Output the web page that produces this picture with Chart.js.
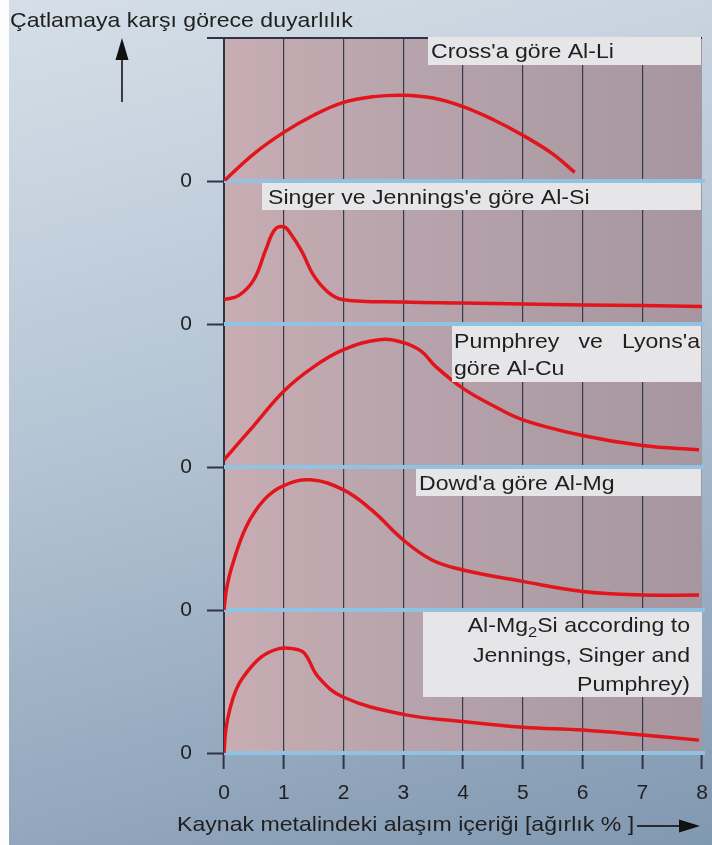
<!DOCTYPE html>
<html>
<head>
<meta charset="utf-8">
<script src="https://cdn.jsdelivr.net/npm/chart.js@4.4.1/dist/chart.umd.min.js"></script>
<style>
  html, body { margin: 0; padding: 0; }
  body {
    width: 712px; height: 845px; overflow: hidden;
    background: linear-gradient(165deg, #d6dfe8 0%, #b4c4d4 45%, #8198b1 100%);
  }
  #wrap { position: relative; width: 712px; height: 845px; }
  .stripe { position: absolute; left: 0; top: 0; width: 9px; height: 845px; background: #fdfdfd; }
  #chart { position: absolute; left: 0; top: 0; }
</style>
</head>
<body>
<div id="wrap">
  <div class="stripe"></div>
  <canvas id="chart" width="712" height="845"></canvas>
</div>
<script>
// --- DATA (x = alloy content wt %, y = relative sensitivity, % of panel height) ---
const alLiX = [0, 0.5, 1, 1.5, 2, 2.5, 3, 3.5, 4, 4.5, 5, 5.5, 5.87];
const alLiY = [0, 19, 34, 46, 55, 59, 60, 58, 52, 43, 32, 19, 6];

const alSiX = [0, 0.25, 0.5, 0.7, 0.85, 1.0, 1.1, 1.3, 1.5, 1.75, 2.0, 3, 4, 5, 6, 7, 8];
const alSiY = [17, 20, 31, 52, 66, 68, 64, 51, 34, 22, 17, 15.4, 14.7, 14, 13.3, 12.9, 12.2];

const alCuX = [0, 0.5, 1, 1.5, 2, 2.6, 3, 3.3, 3.55, 4, 4.5, 5, 6, 7, 7.95];
const alCuY = [5, 29, 53, 70, 82, 89, 87, 81, 70, 55, 43, 33, 22, 15, 12];

const alMgX = [0, 0.04, 0.13, 0.37, 0.67, 1.0, 1.45, 2.0, 2.47, 3.0, 3.48, 4, 5, 6, 7, 7.95];
const alMgY = [0, 14, 30, 58, 77, 87, 91, 84, 70, 49, 35, 28, 20, 13, 10.5, 10.5];

const alMgSiX = [0, 0.03, 0.1, 0.2, 0.32, 0.62, 0.92, 1.15, 1.34, 1.58, 2.0, 3, 4, 5, 6, 7, 7.95];
const alMgSiY = [0, 16, 31, 44, 53, 67, 73, 73, 70, 53, 39, 27, 22, 18, 16, 12.6, 9];

const xMin = 0, xMax = 8;
const yTickLabel = '0';

const yAxisTitle = 'Çatlamaya karşı görece duyarlılık';
const xAxisTitle = 'Kaynak metalindeki alaşım içeriği [ağırlık % ]';
const labelLi = "Cross'a göre Al-Li";
const labelSi = "Singer ve Jennings'e göre Al-Si";
const labelCu = [["Pumphrey", "ve", "Lyons'a"], "göre Al-Cu"];
const labelMg = "Dowd'a göre Al-Mg";
const labelMgSi = [["Al-Mg", "2", "Si according to"], "Jennings, Singer and", "Pumphrey)"];

// panels top -> bottom
const panelIds = ['yLi', 'ySi', 'yCu', 'yMg', 'yMgSi'];

const FONT = '"Liberation Sans", Arial, sans-serif';
const INK = '#1f1f1f';
const DARK = '#2e3446';
const RED = '#e2151d';

function pts(xs, ys) {
    return xs.map((x, i) => ({ x: x, y: ys[i] }));
}

function series(xs, ys, axis) {
    return {
        data: pts(xs, ys),
        yAxisID: axis,
        borderColor: RED,
        borderWidth: 3.5,
        pointRadius: 0,
        fill: false,
        tension: 0.4
    };
}

// text is a bit wide in the original, stretch it horizontally
function txt(ctx, s, x, y, align, size) {
    ctx.save();
    ctx.translate(x, y);
    ctx.scale(1.1, 1);
    ctx.font = (size || 21) + 'px ' + FONT;
    ctx.textAlign = align || 'left';
    ctx.textBaseline = 'alphabetic';
    ctx.fillStyle = INK;
    ctx.fillText(s, 0, 0);
    ctx.restore();
}

function txtW(ctx, s, size) {
    ctx.save();
    ctx.font = (size || 21) + 'px ' + FONT;
    const w = ctx.measureText(s).width * 1.1;
    ctx.restore();
    return w;
}

function box(ctx, x1, y1, x2, y2) {
    ctx.fillStyle = '#e6e6e8';
    ctx.fillRect(x1, y1, x2 - x1, y2 - y1);
}

// --- scales ---
const scales = {
    x: {
        type: 'linear',
        min: xMin,
        max: xMax,
        ticks: { stepSize: 1, color: INK, font: { size: 21, family: FONT }, padding: 12 },
        grid: {
            color: c => (c.tick && c.tick.value === xMax) ? 'rgba(0,0,0,0)' : '#363a4c',
            lineWidth: 1.2,
            tickColor: DARK,
            tickWidth: 2,
            tickLength: 16
        },
        border: { display: false },
        afterFit: s => { s.height = 92; s.paddingLeft = 0; s.paddingRight = 0; }
    }
};

// stacked left axes are placed last-defined first, so add bottom panel first
panelIds.slice().reverse().forEach(id => {
    scales[id] = {
        type: 'linear',
        position: 'left',
        stack: 'panels',
        stackWeight: 1,
        min: 0,
        max: 100,
        afterBuildTicks: s => { s.ticks = [{ value: 0 }]; },
        ticks: { color: INK, font: { size: 21, family: FONT }, padding: 15, callback: v => v === 0 ? yTickLabel : '' },
        grid: { drawOnChartArea: false, tickLength: 17, tickColor: DARK, tickWidth: 2 },
        border: { color: DARK, width: 2 },
        afterFit: s => { s.width = 224; s.paddingTop = 0; s.paddingBottom = 0; }
    };
});

// --- decorations ---
const decor = {
    id: 'decor',
    beforeDraw(chart) {
        const ctx = chart.ctx;
        const a = chart.chartArea;
        const g = ctx.createLinearGradient(a.left, 0, a.right, 0);
        g.addColorStop(0, '#c8adb3');
        g.addColorStop(0.45, '#b5a2aa');
        g.addColorStop(1, '#a7969f');
        ctx.fillStyle = g;
        ctx.fillRect(a.left, a.top, a.right - a.left, a.bottom - a.top);
    },
    beforeDatasetsDraw(chart) {
        const ctx = chart.ctx;
        const a = chart.chartArea;
        ctx.save();
        // light blue panel separators
        ctx.strokeStyle = '#8fc2e3';
        ctx.lineWidth = 4;
        panelIds.forEach(id => {
            const y = chart.scales[id].getPixelForValue(0);
            ctx.beginPath();
            ctx.moveTo(a.left, y);
            ctx.lineTo(a.right + 3, y);
            ctx.stroke();
        });
        // top border
        ctx.strokeStyle = DARK;
        ctx.lineWidth = 2;
        ctx.beginPath();
        ctx.moveTo(a.left - 17, a.top);
        ctx.lineTo(a.right, a.top);
        ctx.stroke();
        ctx.restore();
    },
    afterDatasetsDraw(chart) {
        const ctx = chart.ctx;
        const right = chart.chartArea.right - 1;
        const top = id => chart.scales[id].top;
        ctx.save();

        // Al-Li
        let t = top('yLi');
        box(ctx, 428, t - 1, right, t + 27);
        txt(ctx, labelLi, 431, t + 20);

        // Al-Si
        t = top('ySi');
        box(ctx, 262, t + 2, right, t + 29);
        txt(ctx, labelSi, 268, t + 23);

        // Al-Cu (justified first line)
        t = top('yCu');
        box(ctx, 452, t + 2, right, t + 58);
        const [w1, w2, w3] = labelCu[0];
        const l = 454, r = right - 1;
        txt(ctx, w1, l, t + 24);
        txt(ctx, w3, r, t + 24, 'right');
        const mid = (l + txtW(ctx, w1) + r - txtW(ctx, w3)) / 2;
        txt(ctx, w2, mid, t + 24, 'center');
        txt(ctx, labelCu[1], l, t + 51);

        // Al-Mg
        t = top('yMg');
        box(ctx, 416, t + 2, right, t + 29);
        txt(ctx, labelMg, 419, t + 23);

        // Al-Mg2Si (right aligned, subscript)
        t = top('yMgSi');
        box(ctx, 423, t + 2, right + 1, t + 87);
        const rx = 690;
        const [p1, sub, p2] = labelMgSi[0];
        const wP2 = txtW(ctx, p2), wSub = txtW(ctx, sub, 15);
        txt(ctx, p2, rx, t + 22, 'right');
        txt(ctx, sub, rx - wP2, t + 27, 'right', 15);
        txt(ctx, p1, rx - wP2 - wSub, t + 22, 'right');
        txt(ctx, labelMgSi[1], rx, t + 52, 'right');
        txt(ctx, labelMgSi[2], rx, t + 81, 'right');
        ctx.restore();
    },
    afterDraw(chart) {
        const ctx = chart.ctx;
        ctx.save();
        txt(ctx, yAxisTitle, 10, 27);
        txt(ctx, xAxisTitle, 177, 831);

        ctx.strokeStyle = '#2a2a2a';
        ctx.fillStyle = '#111';
        ctx.lineWidth = 1.8;
        // up arrow
        ctx.beginPath();
        ctx.moveTo(122, 102);
        ctx.lineTo(122, 56);
        ctx.stroke();
        ctx.beginPath();
        ctx.moveTo(122, 38);
        ctx.lineTo(115.5, 60);
        ctx.lineTo(128.5, 60);
        ctx.closePath();
        ctx.fill();
        // right arrow
        ctx.beginPath();
        ctx.moveTo(637, 826);
        ctx.lineTo(684, 826);
        ctx.stroke();
        ctx.beginPath();
        ctx.moveTo(700, 826);
        ctx.lineTo(679, 819.5);
        ctx.lineTo(679, 832.5);
        ctx.closePath();
        ctx.fill();
        ctx.restore();
    }
};

new Chart(document.getElementById('chart'), {
    type: 'line',
    data: {
        datasets: [
            series(alLiX, alLiY, 'yLi'),
            series(alSiX, alSiY, 'ySi'),
            series(alCuX, alCuY, 'yCu'),
            series(alMgX, alMgY, 'yMg'),
            series(alMgSiX, alMgSiY, 'yMgSi')
        ]
    },
    options: {
        responsive: false,
        animation: false,
        layout: { padding: { left: 0, right: 10, top: 38, bottom: 0 } },
        plugins: { legend: { display: false }, tooltip: { enabled: false } },
        scales: scales
    },
    plugins: [decor]
});
</script>
</body>
</html>
